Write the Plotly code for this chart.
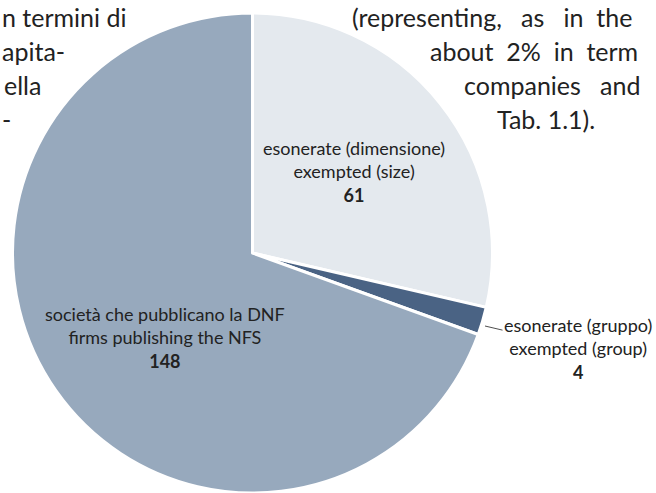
"""Pie chart: companies publishing the non-financial statement (DNF / NFS)."""

import plotly.graph_objects as go

# data
labels_it = ["esonerate (dimensione)", "esonerate (gruppo)", "società che pubblicano la DNF"]
labels_en = ["exempted (size)", "exempted (group)", "firms publishing the NFS"]
counts = [61, 4, 148]
colors = ["#e4e9ee", "#4a6384", "#97a9bd"]

# fragments of the surrounding page text (visible parts only)
_SP = "&nbsp;"
left_lines = ["n termini di", "apita-", "ella", "-"]
right_lines = [
    "(representing," + _SP * 3 + "as" + _SP * 3 + "in" + _SP * 2 + "the",
    "about" + _SP * 2 + "2%" + _SP * 2 + "in" + _SP * 2 + "term",
    "companies" + _SP * 3 + "and",
    "Tab. 1.1).",
]

_FONT = "Lato"
_W, _H = 656, 493

# label placement (pixels from top-left), one per slice
label_xy = [(354, 171), (578, 348), (165, 337)]
leader_tip = (485, 326)  # only the small "gruppo" slice has a leader line


def build_pie() -> go.Figure:
    fig = go.Figure(
        go.Pie(
            values=counts,
            labels=labels_en,
            textinfo="none",
            sort=False,
            direction="clockwise",
            rotation=0,
            marker=dict(colors=colors, line=dict(color="white", width=3)),
            domain=dict(x=[0.019, 0.7508], y=[0.0, 0.9736]),
            hoverinfo="label+value",
        )
    )
    return fig


def add_slice_labels(fig: go.Figure) -> None:
    font = dict(family=_FONT, size=18, color="#222222")
    for i, (it, en, n) in enumerate(zip(labels_it, labels_en, counts)):
        text = f"{it}<br>{en}<br><b>{n}</b>"
        x, y = label_xy[i]
        if i == 1:
            tx, ty = leader_tip
            fig.add_annotation(
                text=text, xref="paper", yref="paper",
                x=tx / _W, y=1 - ty / _H, ax=x - tx, ay=y - ty,
                showarrow=True, arrowhead=0, arrowwidth=0.8, arrowcolor="#222222",
                standoff=0, font=font,
            )
        else:
            fig.add_annotation(
                text=text, xref="paper", yref="paper",
                x=x / _W, y=1 - y / _H, xanchor="center", yanchor="middle",
                showarrow=False, font=font,
            )


def add_page_text(fig: go.Figure) -> None:
    font = dict(family=_FONT, size=25, color="#222222")
    row_y = [17, 51, 85, 119]
    left_x = [0, 0, 2, 0]
    for txt, x, y in zip(left_lines, left_x, row_y):
        fig.add_annotation(
            text=txt, xref="paper", yref="paper",
            x=x / _W, y=1 - y / _H, xanchor="left", yanchor="middle",
            showarrow=False, font=font,
        )
    right_x = [350, 428, 462, 495]
    for txt, x, y in zip(right_lines, right_x, row_y):
        fig.add_annotation(
            text=txt, xref="paper", yref="paper",
            x=x / _W, y=1 - y / _H, xanchor="left", yanchor="middle",
            showarrow=False, font=font,
        )


fig = build_pie()
add_slice_labels(fig)
add_page_text(fig)
fig.update_layout(
    width=_W,
    height=_H,
    margin=dict(l=0, r=0, t=0, b=0),
    showlegend=False,
    paper_bgcolor="white",
    plot_bgcolor="white",
)
# drop the default 8px body margin so the figure sits flush in the window
fig.write_html(
    "out.html",
    config={"displayModeBar": False},
    post_script="document.body.style.margin = '0';",
)
